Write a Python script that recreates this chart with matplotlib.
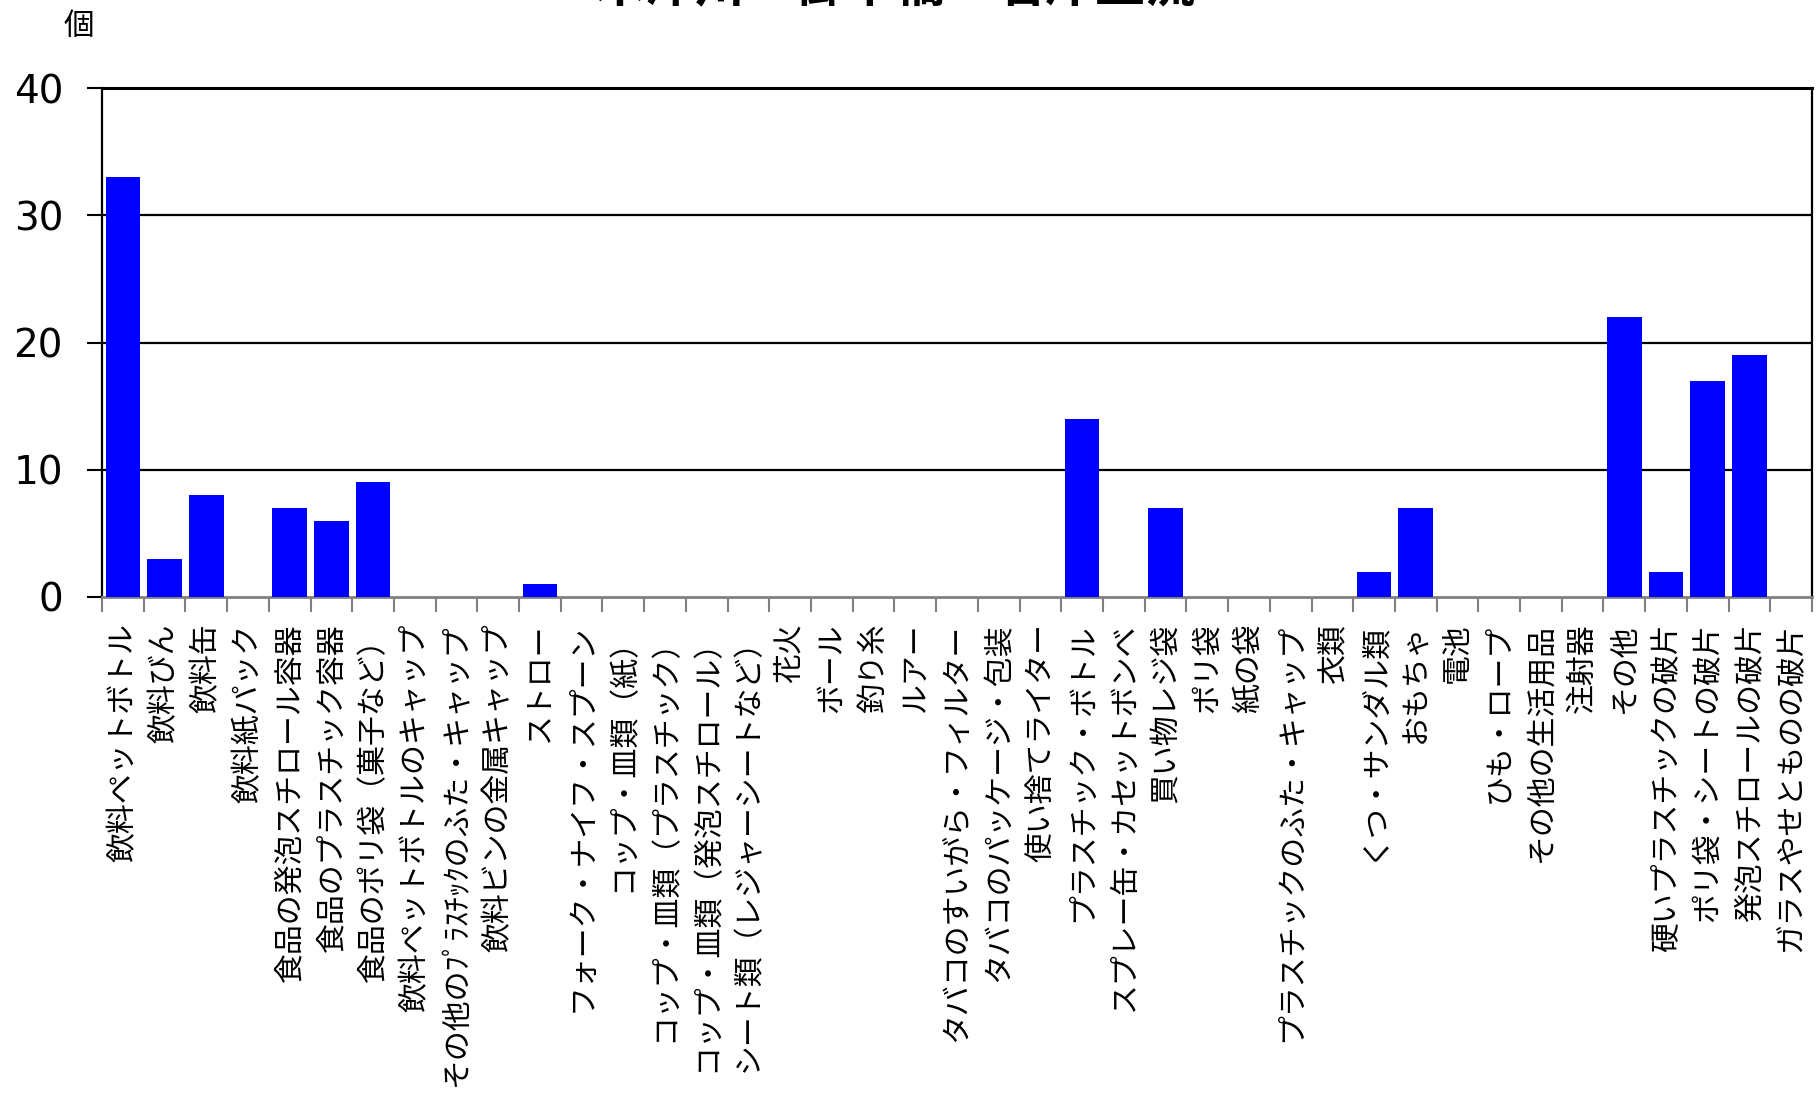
import numpy as np
import matplotlib
matplotlib.use('Agg')
import matplotlib.pyplot as plt

plt.rcParams['font.family'] = ['Noto Sans CJK JP', 'DejaVu Sans']

title = '木津川　御幸橋　右岸上流'
unit = '個'

categories = [
    '飲料ペットボトル', '飲料びん', '飲料缶', '飲料紙パック',
    '食品の発泡スチロール容器', '食品のプラスチック容器', '食品のポリ袋（菓子など）',
    '飲料ペットボトルのキャップ', 'その他のﾌﾟﾗｽﾁｯｸのふた・キャップ', '飲料ビンの金属キャップ',
    'ストロー', 'フォーク・ナイフ・スプーン', 'コップ・皿類（紙）',
    'コップ・皿類（プラスチック）', 'コップ・皿類（発泡スチロール）',
    'シート類（レジャーシートなど）', '花火', 'ボール', '釣り糸', 'ルアー',
    'タバコのすいがら・フィルター', 'タバコのパッケージ・包装', '使い捨てライター',
    'プラスチック・ボトル', 'スプレー缶・カセットボンベ', '買い物レジ袋', 'ポリ袋',
    '紙の袋', 'プラスチックのふた・キャップ', '衣類', 'くつ・サンダル類', 'おもちゃ',
    '電池', 'ひも・ロープ', 'その他の生活用品', '注射器', 'その他',
    '硬いプラスチックの破片', 'ポリ袋・シートの破片', '発泡スチロールの破片',
    'ガラスやせとものの破片',
]
counts = [33, 3, 8, 0, 7, 6, 9, 0, 0, 0,
          1, 0, 0, 0, 0, 0, 0, 0, 0, 0,
          0, 0, 0, 14, 0, 7, 0, 0, 0, 0,
          2, 7, 0, 0, 0, 0, 22, 2, 17, 19,
          0]
yticks = [0, 10, 20, 30, 40]

W, H = 1818, 1095
fig = plt.figure(figsize=(W / 100, H / 100), dpi=100)
ax = fig.add_axes([102 / W, 1 - 597 / H, (1812 - 102) / W, (597 - 88) / H])

x = np.arange(len(categories))
ax.bar(x, counts, width=0.83, color='#0000FF', zorder=3)

ax.set_xlim(-0.5, len(categories) - 0.5)
ax.set_ylim(0, 40)

# gridlines
for v in yticks[1:]:
    ax.axhline(v, color='black', lw=1.6, zorder=1)

ax.set_yticks(yticks)
ax.set_yticklabels([str(v) for v in yticks], family='DejaVu Sans', fontsize=28)
ax.tick_params(axis='y', length=11, width=1.5, color='black', pad=17)

ax.set_xticks(x)
ax.set_xticklabels(categories, rotation=90, va='top', ha='center', fontsize=21.5)
ax.tick_params(axis='x', which='major', length=0, pad=19)
ax.set_xticks(np.arange(len(categories) + 1) - 0.5, minor=True)
ax.tick_params(axis='x', which='minor', length=11, width=1.5, color='#808080')

ax.spines['left'].set_color('black')
ax.spines['left'].set_linewidth(1.6)
ax.spines['right'].set_color('black')
ax.spines['right'].set_linewidth(1.6)
ax.spines['top'].set_color('black')
ax.spines['top'].set_linewidth(2.2)
ax.spines['bottom'].set_color('#808080')
ax.spines['bottom'].set_linewidth(2)

fig.text(79 / W, 1 - 26 / H, unit, ha='center', va='center', fontsize=22)
# title sits partly above the top edge, as in the source image
fig.text(895 / W, 1 + 12 / H, title, ha='center', va='center',
         fontsize=36, fontweight='bold')

fig.savefig('out.png', dpi=100)
